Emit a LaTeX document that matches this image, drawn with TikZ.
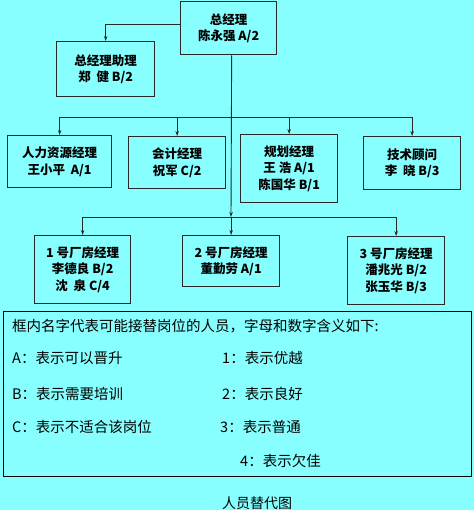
\documentclass[tikz,border=0pt]{standalone}
\usepackage{fontspec}
\setmainfont{Noto Sans CJK SC}
\usepackage{xcolor}
\usetikzlibrary{positioning,arrows.meta,calc}
\definecolor{bgcyan}{RGB}{136,255,255}
\definecolor{boxline}{RGB}{40,40,40}

\begin{document}
\begin{tikzpicture}[x=1pt,y=-1pt,
    staffbox/.style={draw=boxline,line width=1.3pt,anchor=north west,align=center,
      font=\fontsize{12.5}{16.5}\selectfont\bfseries,inner sep=0pt},
    link/.style={draw=boxline,line width=0.9pt,-{Stealth[length=5pt,width=3.5pt]}},
    bus/.style={draw=boxline,line width=0.9pt},
    legtext/.style={anchor=west,font=\fontsize{14.5}{16}\selectfont,inner sep=0pt}]
  \fill[bgcyan] (0,0) rectangle (474,510);
  \useasboundingbox (0,0) rectangle (474,510);
  % top level
  \node[staffbox,minimum width=96,minimum height=53] (ceo) at (180,1) {总经理\\陈永强 A/2};
  \node[staffbox,minimum width=98,minimum height=55] (asst) at (56,41) {总经理助理\\郑\ \ 健 B/2};
  % second row
  \node[staffbox,minimum width=104,minimum height=52] (hr) at (7,135) {人力资源经理\\王小平\ \ A/1};
  \node[staffbox,minimum width=97,minimum height=52] (acct) at (128,136) {会计经理\\祝军 C/2};
  \node[staffbox,minimum width=97,minimum height=68] (plan) at (240,134) {规划经理\\王\ 浩\ A/1\\陈国华 B/1};
  \node[staffbox,minimum width=97,minimum height=53] (tech) at (363,136) {技术顾问\\李\ \ 晓 B/3};
  % plant managers
  \node[staffbox,minimum width=96,minimum height=68] (fa) at (34,235) {1 号厂房经理\\李德良 B/2\\沈\ \ 泉 C/4};
  \node[staffbox,minimum width=97,minimum height=51] (fb) at (182,235) {2 号厂房经理\\董勤劳 A/1};
  \node[staffbox,minimum width=97,minimum height=68] (fc) at (347,236) {3 号厂房经理\\潘兆光 B/2\\张玉华 B/3};
  % connectors
  \coordinate (busA) at (231,117);
  \coordinate (busB) at (231,217);
  \draw[link] ([yshift=3.5]ceo.west) -| (asst.north);
  \draw[link] ([xshift=3]ceo.south) -- (busB);
  \draw[bus] (hr.north |- busA) -- (tech.north |- busA);
  \draw[bus] (fa.north |- busB) -- (fc.north |- busB);
  \foreach \n in {hr,acct,plan,tech} {
    \draw[link] (\n.north |- busA) -- (\n.north);
  }
  \foreach \n in {fa,fb,fc} {
    \draw[link] (\n.north |- busB) -- (\n.north);
  }
  % legend
  \node[draw=black,line width=0.8pt,anchor=north west,minimum width=468,minimum height=165,inner sep=0pt] (legend) at (3,311) {};
  \node[legtext] (lhead) at (12,326) {框内名字代表可能接替岗位的人员，字母和数字含义如下:};
  \foreach \k/\xl/\yl/\txt in {la/12/358/{A：表示可以晋升}, lb/12/394/{B：表示需要培训},
      lc/12/427/{C：表示不适合该岗位}, l1/222/358/{1：表示优越}, l2/222/394/{2：表示良好},
      l3/220/427/{3：表示普通}, l4/240/461/{4：表示欠佳}} {
    \node[legtext] (\k) at (\xl,\yl) {\txt};
  }
  \node[font=\fontsize{14}{16}\selectfont,inner sep=0pt] (caption) at (257,503) {人员替代图};
\end{tikzpicture}
\end{document}
